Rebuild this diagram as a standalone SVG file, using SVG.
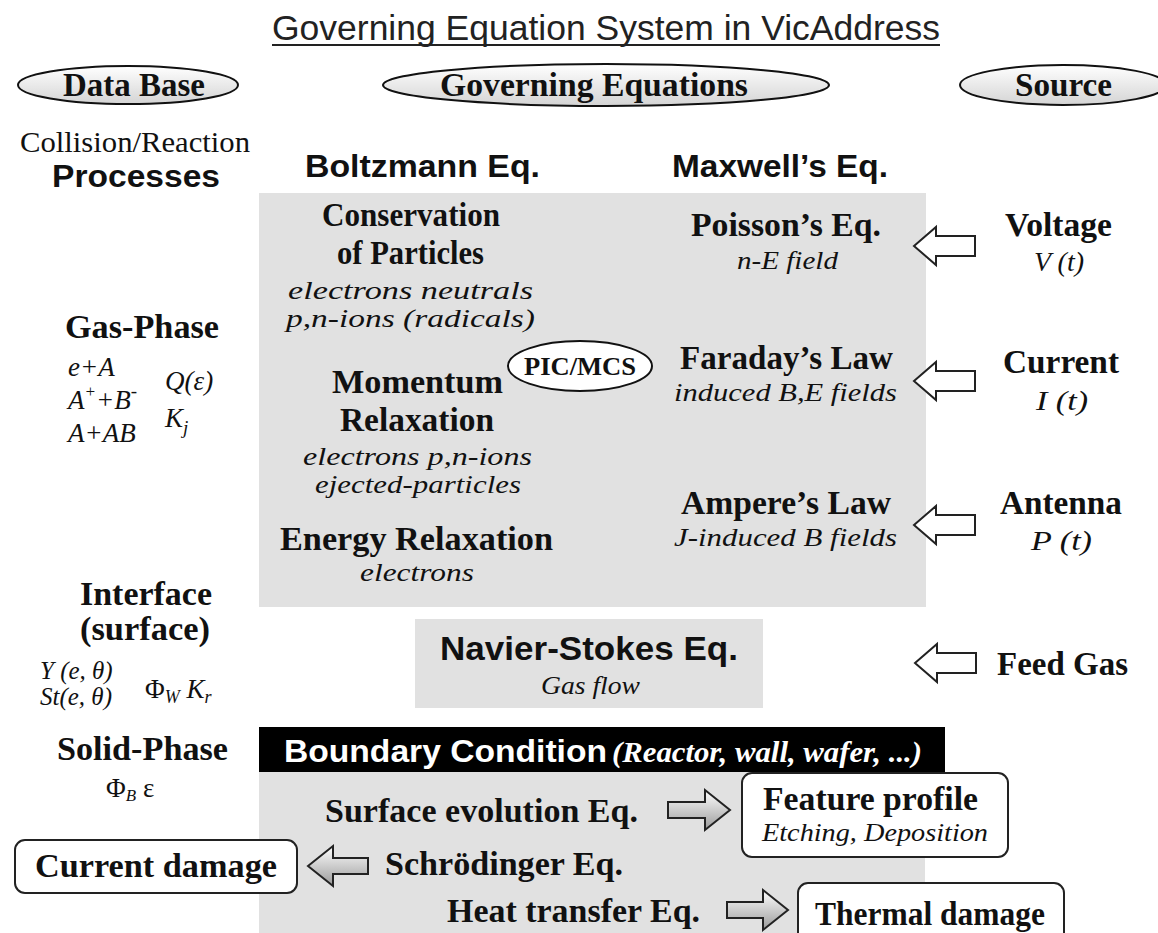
<svg xmlns="http://www.w3.org/2000/svg" width="1158" height="933" viewBox="0 0 1158 933">
<defs>
<style>
text{fill:#111}
.ttl{font-family:'Liberation Sans',Arial,sans-serif;font-size:35px;fill:#222}
.sb{font-family:'Liberation Sans',Arial,sans-serif;font-weight:bold}
.rb{font-family:'Liberation Serif','Times New Roman',serif;font-weight:bold}
.ri{font-family:'Liberation Serif','Times New Roman',serif;font-style:italic}
.rr{font-family:'Liberation Serif','Times New Roman',serif}
.h1{font-size:33px}
.h2{font-size:33px}
.it{font-size:26px}
.sm{font-size:28px}
.gray{fill:#e1e1e1}
.oval{fill:url(#og);stroke:#111;stroke-width:2}
.box{fill:#fff;stroke:#222;stroke-width:2}
.hol{fill:#fff;stroke:#222;stroke-width:2;stroke-linejoin:miter}
.grd{fill:url(#ag);stroke:#222;stroke-width:2}
</style>
<linearGradient id="og" x1="0" y1="0" x2="0" y2="1">
<stop offset="0" stop-color="#ffffff"/>
<stop offset="1" stop-color="#d4d4d4"/>
</linearGradient>
<linearGradient id="ag" x1="0" y1="0" x2="0" y2="1">
<stop offset="0" stop-color="#ffffff"/>
<stop offset="1" stop-color="#9a9a9a"/>
</linearGradient>
<path id="la" d="M0,0 L22,-19 L22,-10 L61,-10 L61,10 L22,10 L22,19 Z"/>
</defs>
<rect width="1158" height="933" fill="#fff"/>

<g id="background">
<rect class="gray" x="259" y="193" width="667" height="414"/>
<rect class="gray" x="415" y="619" width="348" height="89"/>
<rect class="gray" x="259" y="772" width="666" height="161"/>
</g>

<g id="title">
<text class="ttl" x="272" y="40" textLength="668" lengthAdjust="spacingAndGlyphs">Governing Equation System in VicAddress</text>
<line x1="272" y1="45" x2="940" y2="45" stroke="#222" stroke-width="2"/>
</g>

<g id="database">
<ellipse class="oval" cx="128" cy="85" rx="110" ry="19"/>
<text class="rb h1" x="63" y="96" textLength="142" lengthAdjust="spacingAndGlyphs">Data Base</text>
</g>
<g id="governing">
<ellipse class="oval" cx="606" cy="85" rx="223" ry="21"/>
<text class="rb h1" x="440" y="96" textLength="308" lengthAdjust="spacingAndGlyphs">Governing Equations</text>
</g>
<g id="source">
<ellipse class="oval" cx="1063" cy="85" rx="103" ry="20"/>
<text class="rb h1" x="1015" y="96" textLength="97" lengthAdjust="spacingAndGlyphs">Source</text>
</g>

<g id="processes">
<text class="rr" font-size="29" x="20" y="152" textLength="230" lengthAdjust="spacingAndGlyphs">Collision/Reaction</text>
<text class="sb" font-size="32" x="52" y="187" textLength="168" lengthAdjust="spacingAndGlyphs">Processes</text>
</g>
<g id="boltzmann">
<text class="sb" font-size="32" x="305" y="177" textLength="235" lengthAdjust="spacingAndGlyphs">Boltzmann Eq.</text>
</g>
<g id="maxwell">
<text class="sb" font-size="32" x="672" y="177" textLength="216" lengthAdjust="spacingAndGlyphs">Maxwell’s Eq.</text>
</g>

<g id="conservation">
<text class="rb h1" x="322" y="226" textLength="178" lengthAdjust="spacingAndGlyphs">Conservation</text>
<text class="rb h1" x="337" y="264" textLength="147" lengthAdjust="spacingAndGlyphs">of Particles</text>
<text class="ri it" x="288" y="299" textLength="245" lengthAdjust="spacingAndGlyphs">electrons  neutrals</text>
<text class="ri it" x="286" y="327" textLength="249" lengthAdjust="spacingAndGlyphs">p,n-ions  (radicals)</text>
</g>
<g id="momentum">
<text class="rb h1" x="332" y="393" textLength="171" lengthAdjust="spacingAndGlyphs">Momentum</text>
<text class="rb h1" x="340" y="431" textLength="154" lengthAdjust="spacingAndGlyphs">Relaxation</text>
<text class="ri it" x="303" y="465" textLength="229" lengthAdjust="spacingAndGlyphs">electrons  p,n-ions</text>
<text class="ri it" x="315" y="493" textLength="206" lengthAdjust="spacingAndGlyphs">ejected-particles</text>
</g>
<g id="energy">
<text class="rb h1" x="280" y="550" textLength="273" lengthAdjust="spacingAndGlyphs">Energy Relaxation</text>
<text class="ri it" x="360" y="581" textLength="114" lengthAdjust="spacingAndGlyphs">electrons</text>
</g>
<g id="picmcs">
<ellipse cx="580" cy="366" rx="72" ry="25" fill="#fff" stroke="#111" stroke-width="2"/>
<text class="rb" font-size="26" x="524" y="375" textLength="112" lengthAdjust="spacingAndGlyphs">PIC/MCS</text>
</g>

<g id="poisson">
<text class="rb h1" x="691" y="236" textLength="190" lengthAdjust="spacingAndGlyphs">Poisson’s Eq.</text>
<text class="ri it" x="737" y="269" textLength="101" lengthAdjust="spacingAndGlyphs">n-E field</text>
</g>
<g id="faraday">
<text class="rb h1" x="680" y="369" textLength="213" lengthAdjust="spacingAndGlyphs">Faraday’s Law</text>
<text class="ri it" x="674" y="401" textLength="223" lengthAdjust="spacingAndGlyphs">induced B,E fields</text>
</g>
<g id="ampere">
<text class="rb h1" x="681" y="514" textLength="210" lengthAdjust="spacingAndGlyphs">Ampere’s Law</text>
<text class="ri it" x="674" y="546" textLength="223" lengthAdjust="spacingAndGlyphs">J-induced B fields</text>
</g>

<g id="voltage">
<text class="rb h1" x="1005" y="236" textLength="107" lengthAdjust="spacingAndGlyphs">Voltage</text>
<text class="ri sm" x="1034" y="271" textLength="50" lengthAdjust="spacingAndGlyphs">V (t)</text>
</g>
<g id="current">
<text class="rb h1" x="1003" y="373" textLength="116" lengthAdjust="spacingAndGlyphs">Current</text>
<text class="ri sm" x="1036" y="410" textLength="52" lengthAdjust="spacingAndGlyphs">I (t)</text>
</g>
<g id="antenna">
<text class="rb h1" x="1000" y="514" textLength="122" lengthAdjust="spacingAndGlyphs">Antenna</text>
<text class="ri sm" x="1031" y="550" textLength="61" lengthAdjust="spacingAndGlyphs">P (t)</text>
</g>
<g id="feedgas">
<text class="rb h1" x="997" y="675" textLength="131" lengthAdjust="spacingAndGlyphs">Feed Gas</text>
</g>

<g id="gasphase">
<text class="rb h1" x="65" y="338" textLength="154" lengthAdjust="spacingAndGlyphs">Gas-Phase</text>
<text class="ri" font-size="27" x="68" y="376">e+A</text>
<text class="ri" font-size="27" x="68" y="409">A<tspan font-size="17" dy="-12">+</tspan><tspan dy="12">+B</tspan><tspan font-size="19" dy="-12">-</tspan></text>
<text class="ri" font-size="27" x="68" y="442">A+AB</text>
<text class="ri" font-size="27" x="165" y="390">Q(ε)</text>
<text class="ri" font-size="27" x="165" y="427">K<tspan font-size="19" dy="7">j</tspan></text>
</g>
<g id="interface">
<text class="rb h1" x="80" y="605" textLength="132" lengthAdjust="spacingAndGlyphs">Interface</text>
<text class="rb h1" x="80" y="640" textLength="130" lengthAdjust="spacingAndGlyphs">(surface)</text>
<text class="ri" font-size="25" x="40" y="679">Y (e, θ)</text>
<text class="ri" font-size="25" x="40" y="705">St(e, θ)</text>
<text class="ri" font-size="27" x="145" y="698"><tspan font-style="normal">Φ</tspan><tspan font-size="18" dy="5">W</tspan><tspan dy="-5"> K</tspan><tspan font-size="18" dy="5">r</tspan></text>
</g>
<g id="solidphase">
<text class="rb h1" x="57" y="760" textLength="171" lengthAdjust="spacingAndGlyphs">Solid-Phase</text>
<text class="rr" font-size="27" x="106" y="797">Φ<tspan class="ri" font-size="17" dy="4">B</tspan><tspan dy="-4">    ε</tspan></text>
</g>

<g id="navierstokes">
<text class="sb" font-size="33" x="440" y="660" textLength="298" lengthAdjust="spacingAndGlyphs">Navier-Stokes Eq.</text>
<text class="ri it" x="541" y="694" textLength="99" lengthAdjust="spacingAndGlyphs">Gas flow</text>
</g>

<g id="boundary">
<rect x="259" y="727" width="686" height="45" fill="#000"/>
<text class="sb" font-size="32" x="284" y="762" style="fill:#fff" textLength="323" lengthAdjust="spacingAndGlyphs">Boundary Condition</text>
<text class="rb" font-size="29" font-style="italic" x="612" y="762" style="fill:#fff" textLength="310" lengthAdjust="spacingAndGlyphs">(Reactor, wall, wafer, ...)</text>
</g>

<g id="surfaceevo">
<text class="rb h2" x="325" y="822" textLength="313" lengthAdjust="spacingAndGlyphs">Surface evolution Eq.</text>
</g>
<g id="schrodinger">
<text class="rb h2" x="385" y="875" textLength="238" lengthAdjust="spacingAndGlyphs">Schrödinger Eq.</text>
</g>
<g id="heattransfer">
<text class="rb h2" x="447" y="922" textLength="253" lengthAdjust="spacingAndGlyphs">Heat transfer Eq.</text>
</g>
<g id="featureprofile">
<rect class="box" x="742" y="773" width="266" height="84" rx="10"/>
<text class="rb h2" x="763" y="810" textLength="215" lengthAdjust="spacingAndGlyphs">Feature profile</text>
<text class="ri it" x="762" y="841" textLength="226" lengthAdjust="spacingAndGlyphs">Etching, Deposition</text>
</g>
<g id="currentdamage">
<rect class="box" x="15" y="840" width="282" height="53" rx="10"/>
<text class="rb h2" x="35" y="877" textLength="242" lengthAdjust="spacingAndGlyphs">Current damage</text>
</g>
<g id="thermaldamage">
<rect class="box" x="798" y="883" width="266" height="60" rx="10"/>
<text class="rb h2" x="815" y="925" textLength="230" lengthAdjust="spacingAndGlyphs">Thermal damage</text>
</g>

<g id="connectors">
<use href="#la" class="hol" transform="translate(914,246)"/>
<use href="#la" class="hol" transform="translate(914,381)"/>
<use href="#la" class="hol" transform="translate(914,525)"/>
<use href="#la" class="hol" transform="translate(915,663)"/>
<path class="grd" d="M668,802 L705,802 L705,790 L730,810 L705,830 L705,818 L668,818 Z"/>
<path class="grd" d="M308,866 L333,846 L333,858 L368,858 L368,874 L333,874 L333,886 Z"/>
<path class="grd" d="M727,902 L763,902 L763,890 L788,910 L763,930 L763,918 L727,918 Z"/>
</g>
</svg>
